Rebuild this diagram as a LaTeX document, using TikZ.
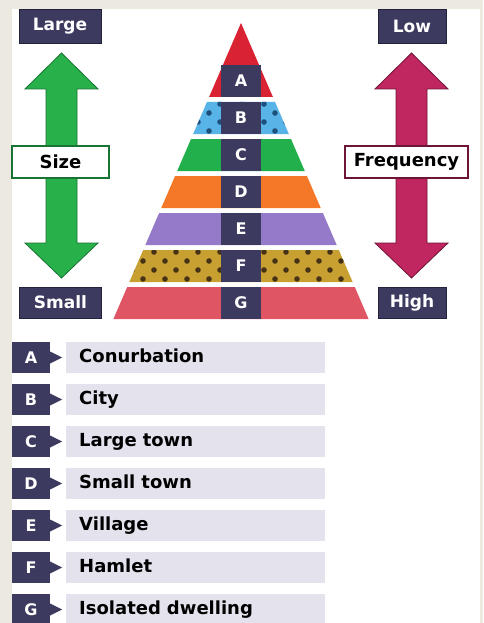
\documentclass[tikz,border=0pt]{standalone}
\usepackage{fontspec}
\setmainfont{DejaVu Sans}
\usepackage{tikz}

\definecolor{navy}{RGB}{60,58,95}
\definecolor{navyedge}{RGB}{35,34,60}
\definecolor{frame}{RGB}{236,234,224}
\definecolor{pyrA}{RGB}{218,35,50}
\definecolor{pyrB}{RGB}{88,180,230}
\definecolor{pyrC}{RGB}{34,176,76}
\definecolor{pyrD}{RGB}{245,120,40}
\definecolor{pyrE}{RGB}{148,122,200}
\definecolor{pyrF}{RGB}{200,160,50}
\definecolor{pyrG}{RGB}{224,85,100}
\definecolor{dotB}{RGB}{30,80,125}
\definecolor{dotF}{RGB}{70,50,20}
\definecolor{sizegreen}{RGB}{40,176,75}
\definecolor{sizegreendark}{RGB}{25,115,50}
\definecolor{freqred}{RGB}{192,38,96}
\definecolor{freqreddark}{RGB}{110,20,55}
\definecolor{bargray}{RGB}{228,227,237}

\begin{document}
\begin{tikzpicture}[x=1pt,y=-1pt,
    darkbox/.style={fill=navy,draw=navyedge,text=white,font=\fontsize{17}{17}\selectfont\bfseries,
        minimum width=68pt,minimum height=34pt,inner sep=0pt},
    scalebox/.style={fill=white,draw=#1,line width=1.2pt,font=\fontsize{18}{18}\selectfont\bfseries,
        minimum height=32pt,inner sep=0pt},
    layerbox/.style={fill=navy,text=white,font=\fontsize{16}{16}\selectfont\bfseries,
        minimum width=40pt,minimum height=32pt,inner sep=0pt},
    keybox/.style={fill=navy,text=white,font=\fontsize{16}{16}\selectfont\bfseries,
        minimum width=38pt,minimum height=31pt,inner sep=0pt},
    keybar/.style={fill=bargray,font=\fontsize{18}{18}\selectfont\bfseries,text width=233pt,
        align=left,inner xsep=13pt,inner ysep=0pt,text height=13pt,text depth=4pt,minimum height=31pt},
    dotty/.style={path picture={
        \foreach \r in {0,...,4}{
            \foreach \k in {0,...,12}{
                \fill[#1] ({110+22*\k+11*mod(\r,2)},{\yt+2+9*\r}) circle (2.8);
            }
        }}}
]
    \useasboundingbox (0,0) rectangle (483,623);
    \fill[frame] (0,0) rectangle (483,623);
    \fill[white] (12,9) rectangle (480,623);

    \foreach \cx/\fc/\dc in {61.5/sizegreen/sizegreendark,411.5/freqred/freqreddark}{
        \draw[fill=\fc,draw=\dc,line width=0.8pt] (\cx,53) -- (\cx+36.5,89) -- (\cx+15.5,89)
            -- (\cx+15.5,243) -- (\cx+36.5,243) -- (\cx,278) -- (\cx-36.5,243)
            -- (\cx-15.5,243) -- (\cx-15.5,89) -- (\cx-36.5,89) -- cycle;
    }

    \node[darkbox,minimum width=82pt] (large) at (60,26) {Large};
    \node[darkbox,minimum width=82pt,minimum height=31pt] (small) at (60.5,302.5) {Small};
    \node[darkbox] (low) at (412,26) {Low};
    \node[darkbox,minimum height=31pt] (high) at (412,302.5) {High};
    \node[scalebox=sizegreendark,minimum width=97pt] (size) at (60.5,162) {Size};
    \node[scalebox=freqreddark,minimum width=123pt] (freq) at (406.5,162) {Frequency};

    \fill[pyrA] (241,23) -- (272.9,97) -- (209.1,97) -- cycle;
    \node[layerbox] (layA) at (241,81) {A};
    \foreach \l/\c/\pat [count=\i] in {B/pyrB/dotB,C/pyrC/,D/pyrD/,E/pyrE/,F/pyrF/dotF,G/pyrG/}{
        \pgfmathsetmacro\yt{102+37*(\i-1)}
        \pgfmathsetmacro\yb{\yt+32}
        \pgfmathsetmacro\wt{0.431*(\yt-23)}
        \pgfmathsetmacro\wb{0.431*(\yb-23)}
        \ifx\pat\empty
            \fill[\c] (241-\wt,\yt) -- (241+\wt,\yt) -- (241+\wb,\yb) -- (241-\wb,\yb) -- cycle;
        \else
            \fill[\c,dotty=\pat] (241-\wt,\yt) -- (241+\wt,\yt) -- (241+\wb,\yb) -- (241-\wb,\yb) -- cycle;
        \fi
        \node[layerbox] (lay\l) at (241,{(\yt+\yb)/2}) {\l};
    }

    \foreach \l/\txt [count=\i from 0] in {A/Conurbation,B/City,C/Large town,D/Small town,
            E/Village,F/Hamlet,G/Isolated dwelling}{
        \pgfmathsetmacro\yc{357.5+42*\i}
        \node[keybox] (key\l) at (31,\yc) {\l};
        \fill[navy] ([yshift=6pt]key\l.east) -- ++(12,6) -- ++(-12,6) -- cycle;
        \node[keybar,anchor=west] (bar\l) at (66,\yc) {\txt};
    }
\end{tikzpicture}
\end{document}
